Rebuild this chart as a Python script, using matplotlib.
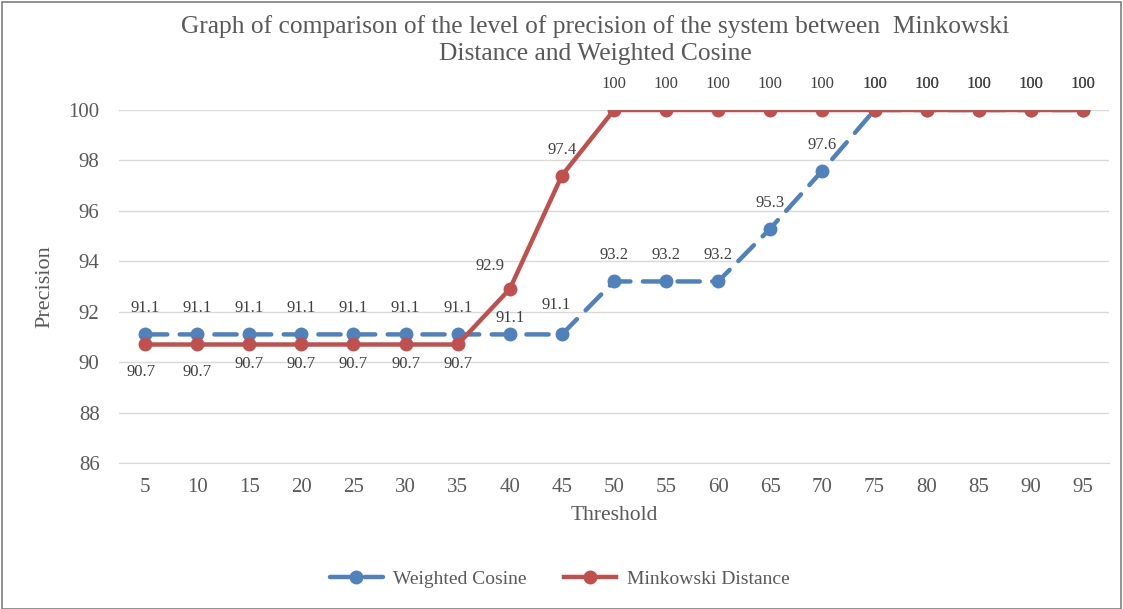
import matplotlib
matplotlib.use("Agg")
import matplotlib.pyplot as plt
from matplotlib.patches import Rectangle

thresholds = [5, 10, 15, 20, 25, 30, 35, 40, 45, 50, 55, 60, 65, 70, 75, 80, 85, 90, 95]
weighted_cosine = [91.1, 91.1, 91.1, 91.1, 91.1, 91.1, 91.1, 91.1, 91.1, 93.2, 93.2, 93.2,
                   95.3, 97.6, 100, 100, 100, 100, 100]
minkowski = [90.7, 90.7, 90.7, 90.7, 90.7, 90.7, 90.7, 92.9, 97.4, 100, 100, 100,
             100, 100, 100, 100, 100, 100, 100]
y_ticks = [86, 88, 90, 92, 94, 96, 98, 100]

BLUE = "#4F81BD"
RED = "#C0504D"
GRAY = "#595959"
plt.rcParams['font.family'] = ['Liberation Serif', 'DejaVu Serif']

fig = plt.figure(figsize=(11.23, 6.09), dpi=100)
W, H = 1123, 609
ax = fig.add_axes([119 / W, (H - 463) / H, 990 / W, (463 - 110) / H])

x = list(range(len(thresholds)))
ax.plot(x, weighted_cosine, color=BLUE, lw=3.2, linestyle=(0, (5, 2.8)),
        marker='o', markersize=9, label='Weighted Cosine', zorder=3,
        dash_capstyle='round', solid_capstyle='round')
ax.plot(x, minkowski, color=RED, lw=3.2, marker='o', markersize=9,
        label='Minkowski Distance', zorder=4)

ax.set_xlim(-0.5, len(thresholds) - 0.5)
ax.set_ylim(86, 100)
ax.set_yticks(y_ticks)
ax.set_xticks(x)
ax.set_xticklabels([str(t) for t in thresholds])
ax.grid(axis='y', color='#D9D9D9', lw=1)
ax.set_axisbelow(True)
for s in ['top', 'right', 'left']:
    ax.spines[s].set_visible(False)
ax.spines['bottom'].set_color('#D9D9D9')
ax.tick_params(length=0, labelsize=15, colors=GRAY)
ax.tick_params(axis='x', pad=11)
ax.tick_params(axis='y', pad=14)

ax.set_xlabel('Threshold', fontsize=15.5, color=GRAY, labelpad=6)
ax.set_ylabel('Precision', fontsize=16, color=GRAY, labelpad=10)

fig.text(595 / W, 1 - 40 / H,
         'Graph of comparison of the level of precision of the system between  Minkowski\nDistance and Weighted Cosine',
         ha='center', va='center', fontsize=18.4, color=GRAY, linespacing=1.33)

def fmt(v):
    return f"{v:g}"

# label offsets in pixels (dx, dy)
blue_off = {i: (0, 26) for i in x}
blue_off[7] = (0, 16)
blue_off[8] = (-6, 29)
red_off = {i: (0, 26) for i in x}
for i in range(7):
    red_off[i] = (0, -20)
red_off[0] = (-4, -28)
red_off[1] = (0, -28)
red_off[7] = (-20, 23)

for i, v in enumerate(weighted_cosine):
    dx, dy = blue_off[i]
    ax.annotate(fmt(v), (i, v), xytext=(dx * 0.72, dy * 0.72), textcoords='offset points',
                ha='center', va='center', fontsize=12, color='#404040', zorder=6)
for i, v in enumerate(minkowski):
    dx, dy = red_off[i]
    ax.annotate(fmt(v), (i, v), xytext=(dx * 0.72, dy * 0.72), textcoords='offset points',
                ha='center', va='center', fontsize=12, color='#404040', zorder=6)

leg = fig.legend(loc='center', bbox_to_anchor=(560 / W, 1 - 579 / H), ncol=2,
                 frameon=False, fontsize=14, handlelength=2.7, columnspacing=1.9,
                 handletextpad=0.55)
for t in leg.get_texts():
    t.set_color(GRAY)

fig.add_artist(Rectangle((2 / W, 0), 1 - 4 / W, 1 - 2 / H, transform=fig.transFigure,
                         fill=False, edgecolor='#7F7F7F', lw=1.2))

fig.savefig('out.png', dpi=100)
